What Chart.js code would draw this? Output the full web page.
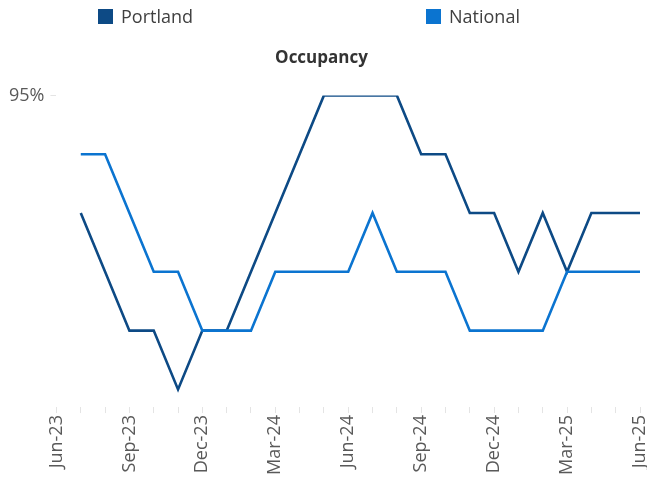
<!DOCTYPE html>
<html>
<head>
<meta charset="utf-8">
<script src="https://cdn.jsdelivr.net/npm/chart.js@4"></script>
<style>
  html, body { margin: 0; padding: 0; background: #fff; }
  #wrap { position: relative; width: 647px; height: 477px; }
</style>
</head>
<body>
<div id="wrap"><canvas id="c"></canvas></div>
<script>
const months = ['Jun-23','Jul-23','Aug-23','Sep-23','Oct-23','Nov-23','Dec-23',
  'Jan-24','Feb-24','Mar-24','Apr-24','May-24','Jun-24','Jul-24','Aug-24','Sep-24','Oct-24','Nov-24','Dec-24',
  'Jan-25','Feb-25','Mar-25','Apr-25','May-25','Jun-25'];
const portland = [null, 93, 92, 91, 91, 90, 91, 91, 92, 93, 94, 95, 95, 95, 95, 94, 94, 93, 93, 92, 93, 92, 93, 93, 93];
const national = [null, 94, 94, 93, 92, 92, 91, 91, 91, 92, 92, 92, 92, 93, 92, 92, 92, 91, 91, 91, 91, 92, 92, 92, 92];
const yTickValues = [95];
const seriesNames = ['Portland', 'National'];
const seriesColors = ['#0d4a85', '#0b74d0'];
const chartTitle = 'Occupancy';

const FONT = "'Open Sans', 'DejaVu Sans', sans-serif";

const legendPlugin = {
  id: 'customLegend',
  afterDraw(chart) {
    const ctx = chart.ctx;
    const xs = [98, 426];
    const y = 9;
    ctx.save();
    chart.data.datasets.forEach((ds, i) => {
      ctx.fillStyle = ds.borderColor;
      ctx.fillRect(xs[i], y, 15, 15);
      ctx.fillStyle = '#404040';
      ctx.font = "18px " + FONT;
      ctx.textBaseline = 'middle';
      ctx.textAlign = 'left';
      ctx.fillText(ds.label, xs[i] + 23, y + 9);
    });
    ctx.restore();
  }
};

new Chart(document.getElementById('c'), {
  type: 'line',
  data: {
    labels: months,
    datasets: [
      { label: seriesNames[0], data: portland, borderColor: seriesColors[0], backgroundColor: seriesColors[0],
        borderWidth: 2.6, pointRadius: 0, tension: 0, order: 1 },
      { label: seriesNames[1], data: national, borderColor: seriesColors[1], backgroundColor: seriesColors[1],
        borderWidth: 2.6, pointRadius: 0, tension: 0, order: 0 }
    ]
  },
  options: {
    responsive: true,
    maintainAspectRatio: false,
    animation: false,
    layout: { padding: { top: 48, left: 3, right: 7, bottom: 0 } },
    plugins: {
      legend: { display: false },
      tooltip: { enabled: false },
      title: {
        display: true, text: chartTitle, color: '#333333',
        font: { family: FONT, size: 17, weight: 'bold' },
        padding: { top: 0, bottom: 27 }
      }
    },
    scales: {
      x: {
        afterFit: (axis) => { axis.paddingLeft = 0; axis.paddingRight = 0; },
        grid: { drawOnChartArea: false, drawTicks: true, tickLength: 6, color: '#e4e4e4' },
        border: { display: false },
        ticks: {
          autoSkip: false, maxRotation: 90, minRotation: 90, padding: 2,
          color: '#595959', font: { family: FONT, size: 18 },
          callback: (v, i) => (i % 3 === 0 ? months[i] : '')
        }
      },
      y: {
        min: 89.7, max: 95,
        afterBuildTicks: (axis) => { axis.ticks = yTickValues.map(v => ({ value: v })); },
        grid: { drawOnChartArea: false, drawTicks: true, tickLength: 6, color: '#e4e4e4' },
        border: { display: false },
        ticks: {
          padding: 6, color: '#595959', font: { family: FONT, size: 18 },
          callback: (v) => v + '%'
        }
      }
    }
  },
  plugins: [legendPlugin]
});
</script>
</body>
</html>
